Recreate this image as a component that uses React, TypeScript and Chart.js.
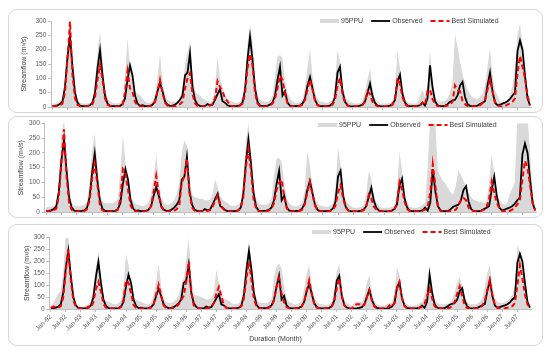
import React, { useEffect, useRef } from 'react';
import { Chart, registerables } from 'chart.js';

Chart.register(...registerables);

const YEARS = ['92', '93', '94', '95', '96', '97', '98', '99', '00', '01', '02', '03', '04', '05', '06', '07'];
const MONTHS = ['Jan', 'Feb', 'Mar', 'Apr', 'May', 'Jun', 'Jul', 'Aug', 'Sep', 'Oct', 'Nov', 'Dec'];
const CATEGORIES = YEARS.flatMap((y) => MONTHS.map((m) => `${m}-${y}`));

const Y_TICKS = [0, 50, 100, 150, 200, 250, 300];

const OBSERVED = [
  3, 4, 6, 10, 20, 70, 175, 245, 140, 50, 15, 5,
  3, 3, 4, 6, 15, 50, 135, 198, 110, 40, 12, 4,
  3, 3, 3, 4, 10, 30, 95, 145, 110, 40, 12, 4,
  6, 3, 3, 4, 8, 20, 55, 85, 55, 20, 8, 4,
  5, 8, 15, 25, 40, 110, 120, 187, 70, 25, 8, 4,
  3, 3, 10, 6, 8, 25, 45, 62, 20, 15, 6, 3,
  3, 3, 4, 6, 15, 60, 165, 245, 165, 65, 18, 5,
  4, 4, 5, 8, 15, 40, 95, 140, 40, 55, 15, 5,
  3, 3, 4, 5, 12, 30, 75, 105, 65, 25, 8, 3,
  3, 3, 4, 5, 12, 35, 120, 140, 55, 18, 6, 3,
  2, 2, 3, 5, 8, 20, 50, 82, 38, 14, 5, 3,
  2, 2, 3, 5, 10, 25, 90, 113, 45, 15, 5, 3,
  3, 3, 4, 6, 15, 5, 30, 145, 70, 20, 6, 3,
  3, 4, 10, 18, 22, 25, 40, 75, 88, 35, 10, 4,
  3, 3, 5, 10, 15, 20, 75, 120, 55, 15, 6, 8,
  12, 15, 20, 28, 40, 50, 195, 232, 200, 110, 30, 6,
];

const SIM_1 = [
  3, 3, 4, 6, 12, 50, 170, 298, 110, 30, 8, 3,
  2, 2, 3, 4, 10, 35, 95, 145, 95, 30, 8, 3,
  2, 2, 2, 3, 8, 50, 125, 65, 52, 18, 6, 2,
  2, 2, 2, 3, 6, 18, 55, 95, 50, 15, 5, 2,
  3, 3, 5, 10, 18, 65, 100, 118, 45, 12, 4, 2,
  2, 2, 3, 5, 10, 30, 90, 70, 55, 30, 20, 5,
  2, 2, 3, 5, 12, 45, 135, 185, 145, 50, 12, 3,
  2, 2, 3, 5, 12, 30, 65, 110, 95, 45, 12, 3,
  2, 2, 3, 4, 8, 25, 60, 95, 60, 22, 6, 2,
  2, 2, 3, 4, 8, 25, 75, 100, 45, 15, 5, 2,
  2, 2, 3, 4, 7, 18, 55, 45, 18, 8, 3, 2,
  2, 2, 3, 4, 8, 28, 100, 80, 35, 10, 3, 2,
  2, 2, 3, 5, 15, 8, 55, 60, 28, 10, 3, 2,
  3, 3, 5, 8, 18, 75, 60, 55, 22, 10, 3, 2,
  2, 2, 3, 6, 14, 25, 60, 95, 55, 18, 5, 2,
  2, 3, 8, 12, 18, 30, 120, 178, 140, 100, 40, 5,
];

const UPPER_1 = [
  10, 12, 15, 20, 30, 90, 200, 295, 170, 60, 25, 15,
  12, 12, 12, 15, 25, 90, 190, 262, 170, 65, 30, 20,
  15, 12, 12, 15, 25, 100, 240, 140, 100, 55, 45, 40,
  30, 20, 15, 15, 20, 45, 100, 187, 85, 40, 25, 18,
  18, 18, 22, 35, 60, 150, 190, 228, 120, 55, 45, 40,
  30, 25, 20, 18, 20, 60, 175, 100, 70, 45, 30, 20,
  18, 15, 15, 18, 30, 90, 220, 288, 230, 100, 45, 25,
  18, 18, 18, 22, 40, 110, 175, 181, 170, 90, 50, 30,
  20, 15, 15, 18, 25, 70, 140, 200, 110, 50, 28, 18,
  18, 15, 15, 18, 25, 80, 200, 160, 75, 40, 25, 18,
  15, 12, 12, 15, 22, 55, 95, 135, 65, 30, 18, 12,
  12, 12, 12, 15, 20, 60, 195, 135, 60, 30, 18, 12,
  12, 12, 15, 40, 60, 35, 80, 195, 95, 35, 22, 18,
  20, 22, 30, 50, 90, 255, 210, 160, 115, 85, 60, 45,
  35, 30, 28, 35, 45, 75, 140, 205, 110, 60, 40, 20,
  15, 20, 25, 40, 75, 140, 250, 290, 210, 130, 60, 20,
];

const SIM_2 = [
  3, 3, 4, 6, 12, 55, 170, 280, 120, 30, 8, 3,
  2, 2, 3, 4, 10, 40, 115, 165, 95, 25, 6, 2,
  2, 2, 2, 3, 8, 45, 145, 130, 75, 22, 6, 2,
  2, 2, 2, 3, 6, 20, 70, 122, 65, 18, 5, 2,
  3, 3, 5, 10, 22, 100, 120, 180, 65, 15, 5, 2,
  2, 2, 3, 4, 7, 18, 38, 55, 28, 12, 4, 2,
  2, 2, 3, 5, 12, 50, 150, 212, 140, 45, 12, 3,
  2, 2, 3, 5, 12, 30, 75, 100, 110, 50, 12, 3,
  2, 2, 3, 4, 8, 25, 65, 102, 60, 22, 6, 2,
  2, 2, 3, 4, 8, 22, 65, 91, 45, 15, 5, 2,
  2, 2, 3, 4, 7, 18, 59, 45, 18, 8, 3, 2,
  2, 2, 3, 4, 8, 30, 102, 75, 35, 10, 3, 2,
  2, 2, 3, 5, 8, 18, 65, 162, 90, 18, 4, 2,
  2, 2, 3, 5, 8, 22, 40, 48, 40, 15, 5, 3,
  3, 3, 5, 8, 18, 45, 102, 65, 32, 12, 4, 3,
  3, 4, 8, 15, 25, 40, 110, 173, 150, 90, 30, 5,
];

const UPPER_2 = [
  15, 18, 20, 20, 28, 100, 260, 320, 170, 55, 30, 20,
  20, 20, 22, 25, 35, 100, 210, 265, 160, 60, 38, 30,
  30, 30, 30, 35, 45, 140, 260, 165, 90, 50, 38, 28,
  25, 22, 20, 25, 32, 60, 115, 195, 100, 45, 32, 25,
  25, 30, 40, 60, 100, 200, 243, 225, 120, 60, 50, 48,
  45, 45, 40, 40, 42, 60, 110, 85, 55, 42, 35, 30,
  22, 20, 22, 25, 35, 100, 240, 300, 210, 95, 45, 30,
  25, 25, 25, 30, 45, 120, 180, 184, 170, 95, 48, 30,
  22, 20, 20, 25, 32, 75, 205, 160, 90, 48, 30, 22,
  20, 18, 18, 22, 28, 85, 216, 160, 70, 42, 28, 20,
  15, 15, 15, 18, 22, 60, 140, 110, 58, 32, 20, 15,
  15, 15, 15, 18, 22, 65, 205, 140, 62, 32, 20, 15,
  15, 15, 18, 25, 32, 150, 320, 320, 300, 140, 120, 105,
  97, 80, 65, 59, 90, 140, 125, 105, 86, 65, 50, 42,
  38, 35, 33, 31, 38, 100, 195, 130, 65, 42, 30, 25,
  30, 60, 80, 100, 320, 320, 320, 320, 320, 200, 60, 20,
];

const SIM_3 = [
  5, 10, 8, 6, 12, 50, 160, 250, 120, 35, 10, 3,
  2, 2, 3, 10, 6, 30, 85, 114, 75, 22, 6, 2,
  2, 2, 2, 3, 8, 40, 121, 110, 65, 18, 5, 2,
  2, 2, 2, 3, 6, 20, 62, 102, 55, 15, 5, 2,
  3, 5, 10, 20, 38, 55, 115, 200, 70, 15, 5, 2,
  2, 2, 3, 5, 10, 25, 65, 93, 55, 15, 5, 2,
  2, 2, 3, 5, 12, 45, 130, 200, 120, 40, 12, 3,
  2, 2, 3, 5, 12, 35, 95, 130, 65, 28, 8, 3,
  2, 2, 3, 4, 10, 30, 78, 121, 65, 22, 6, 2,
  2, 2, 3, 4, 10, 30, 88, 130, 55, 15, 5, 2,
  2, 15, 20, 20, 12, 18, 50, 79, 35, 10, 3, 2,
  2, 2, 3, 15, 8, 25, 85, 114, 45, 12, 3, 2,
  2, 2, 3, 5, 10, 22, 55, 86, 45, 12, 3, 2,
  2, 2, 3, 5, 12, 30, 65, 95, 55, 15, 4, 2,
  2, 2, 3, 6, 14, 35, 80, 121, 60, 18, 5, 2,
  2, 3, 5, 8, 12, 25, 100, 184, 130, 60, 20, 4,
];

const UPPER_3 = [
  10, 25, 45, 65, 75, 160, 320, 320, 150, 55, 22, 10,
  10, 10, 15, 20, 30, 85, 175, 240, 135, 50, 35, 30,
  25, 20, 20, 25, 35, 95, 230, 185, 100, 48, 40, 35,
  30, 25, 20, 20, 28, 60, 115, 190, 100, 42, 30, 25,
  25, 30, 40, 60, 95, 130, 210, 300, 135, 62, 57, 55,
  50, 45, 40, 40, 48, 70, 163, 110, 65, 45, 40, 35,
  25, 20, 20, 25, 40, 105, 210, 275, 200, 85, 42, 30,
  25, 25, 25, 30, 45, 130, 180, 190, 170, 95, 48, 30,
  25, 20, 20, 25, 35, 85, 150, 184, 100, 48, 30, 20,
  20, 18, 18, 20, 30, 85, 160, 190, 80, 42, 25, 20,
  15, 25, 30, 30, 28, 55, 110, 142, 68, 32, 20, 15,
  15, 15, 20, 25, 28, 70, 177, 145, 65, 32, 20, 15,
  15, 15, 18, 25, 32, 60, 105, 128, 75, 38, 25, 20,
  20, 20, 22, 25, 38, 70, 115, 135, 95, 48, 30, 20,
  20, 20, 22, 30, 45, 90, 150, 184, 100, 48, 30, 25,
  25, 30, 35, 45, 60, 100, 268, 240, 200, 120, 50, 15,
];

const FONT = '"Liberation Sans", Arial, sans-serif';
const BAND = '#d9d9d9';
const TEXT = '#404040';
const TICK_TEXT = '#595959';
const AXIS = '#bfbfbf';

const legendPlugin = {
  id: 'boxLegend',
  afterDraw(chart: any, _args: any, opts: any) {
    const ctx = chart.ctx as CanvasRenderingContext2D;
    ctx.save();
    ctx.font = `7px ${FONT}`;
    ctx.textBaseline = 'middle';
    let cx = opts.x;
    const y = opts.y;
    const items = chart.data.datasets.filter((d: any) => d.label);
    items.forEach((d: any) => {
      if (d.fill) {
        ctx.fillStyle = d.backgroundColor;
        ctx.fillRect(cx, y - 2, 19, 4);
      } else {
        ctx.strokeStyle = d.borderColor;
        ctx.lineWidth = d.borderWidth;
        ctx.setLineDash(d.borderDash || []);
        ctx.beginPath();
        ctx.moveTo(cx, y);
        ctx.lineTo(cx + 19, y);
        ctx.stroke();
        ctx.setLineDash([]);
      }
      cx += 21;
      ctx.fillStyle = TEXT;
      ctx.fillText(d.label, cx, y + 0.5);
      cx += ctx.measureText(d.label).width + 8;
    });
    ctx.restore();
  },
};

type PanelSpec = {
  sim: number[];
  upper: number[];
  left: number;
  top: number;
  width: number;
  height: number;
  padL: number;
  padR: number;
  padT: number;
  padB: number;
  yW: number;
  yTitlePad: number;
  xH: number;
  showX: boolean;
  legendX: number;
  legendY: number;
};

const PANELS: PanelSpec[] = [
  { sim: SIM_1, upper: UPPER_1, left: 8, top: 9, width: 535, height: 104, padL: 4, padR: 11.75, padT: 12, padB: 2, yW: 39.25, yTitlePad: 8.3, xH: 4, showX: false, legendX: 312, legendY: 12 },
  { sim: SIM_2, upper: UPPER_2, left: 8, top: 116, width: 535, height: 102, padL: 4, padR: 6.5, padT: 7.3, padB: 0, yW: 32.8, yTitlePad: 4.5, xH: 3, showX: false, legendX: 310, legendY: 9 },
  { sim: SIM_3, upper: UPPER_3, left: 8, top: 224, width: 535, height: 122, padL: 11.8, padR: 11.8, padT: 13.7, padB: 2.6, yW: 29.7, yTitlePad: 3, xH: 26, showX: true, legendX: 304, legendY: 8 },
];

function Panel({ spec }: { spec: PanelSpec }) {
  const ref = useRef<HTMLCanvasElement | null>(null);
  useEffect(() => {
    if (!ref.current) return;
    const chart = new Chart(ref.current, {
      type: 'line',
      data: {
        labels: CATEGORIES,
        datasets: [
          {
            label: '95PPU',
            data: spec.upper,
            fill: 'origin',
            backgroundColor: BAND,
            borderColor: BAND,
            borderWidth: 0,
            pointRadius: 0,
            tension: 0,
            order: 2,
          },
          {
            label: 'Observed',
            data: OBSERVED,
            fill: false,
            borderColor: '#000000',
            borderWidth: 1.8,
            pointRadius: 0,
            tension: 0,
            order: 1,
          },
          {
            label: 'Best Simulated',
            data: spec.sim,
            fill: false,
            borderColor: '#ff0000',
            borderWidth: 2,
            borderDash: [5, 3],
            pointRadius: 0,
            tension: 0,
            order: 0,
          },
        ],
      },
      options: {
        responsive: false,
        animation: false,
        devicePixelRatio: 1,
        layout: { padding: { left: spec.padL, right: spec.padR, top: spec.padT, bottom: spec.padB } },
        plugins: {
          legend: { display: false },
          tooltip: { enabled: false },
          title: {
            display: spec.showX,
            text: 'Duration (Month)',
            position: 'bottom',
            color: TEXT,
            font: { family: FONT, size: 7, weight: 'normal' },
            padding: 0,
          },
          boxLegend: { x: spec.legendX, y: spec.legendY },
        } as any,
        scales: {
          x: {
            type: 'category',
            offset: true,
            grid: { display: true, drawOnChartArea: false, drawTicks: true, tickLength: 3, color: AXIS },
            border: { display: true, color: AXIS },
            ticks: {
              display: spec.showX,
              autoSkip: false,
              minRotation: 45,
              maxRotation: 45,
              padding: 1,
              color: TICK_TEXT,
              font: { family: FONT, size: 6.5 },
              callback: (_v: any, i: number) => (i % 6 === 0 ? CATEGORIES[i] : null),
            },
            afterFit: (s: any) => {
              s.height = spec.xH;
            },
          },
          y: {
            min: 0,
            max: 300,
            afterBuildTicks: (s: any) => {
              s.ticks = Y_TICKS.map((v) => ({ value: v }));
            },
            grid: { display: true, drawOnChartArea: false, drawTicks: true, tickLength: 3, color: AXIS },
            border: { display: true, color: AXIS },
            ticks: { padding: 2, color: TICK_TEXT, font: { family: FONT, size: 6.5 } },
            title: {
              display: true,
              text: 'Streamflow (m³/s)',
              color: TEXT,
              font: { family: FONT, size: 7 },
              padding: { top: spec.yTitlePad, bottom: 0 },
            },
            afterFit: (s: any) => {
              s.width = spec.yW;
            },
          },
        },
      } as any,
      plugins: [legendPlugin],
    });
    return () => chart.destroy();
  }, [spec]);

  return (
    <>
      <div
        style={{
          position: 'absolute',
          left: spec.left,
          top: spec.top,
          width: spec.width,
          height: spec.height,
          border: '1px solid #d6d6d6',
          borderRadius: 9,
          boxSizing: 'border-box',
          background: '#ffffff',
        }}
      />
      <canvas
        ref={ref}
        width={spec.width}
        height={spec.height}
        style={{ position: 'absolute', left: spec.left, top: spec.top, width: spec.width, height: spec.height }}
      />
    </>
  );
}

export default function App() {
  return (
    <div style={{ position: 'absolute', left: 0, top: 0, width: 550, height: 354, background: '#ffffff', overflow: 'hidden' }}>
      {PANELS.map((p, i) => (
        <Panel key={i} spec={p} />
      ))}
    </div>
  );
}
